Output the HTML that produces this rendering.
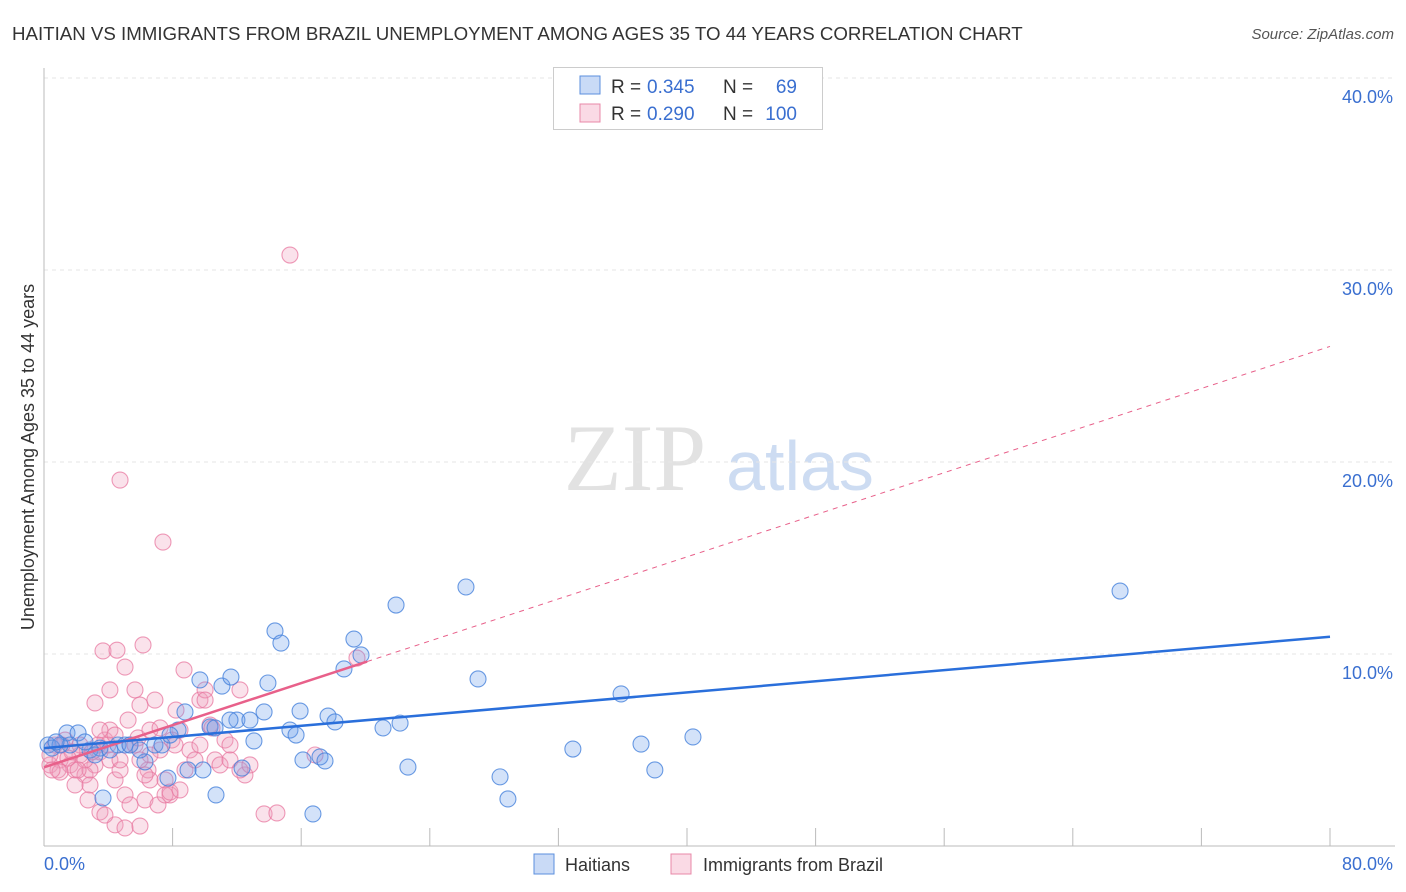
<!DOCTYPE html>
<html><head><meta charset="utf-8"><style>
body{margin:0;background:#fff;font-family:"Liberation Sans",sans-serif}
</style></head><body>
<svg width="1406" height="892" style="position:absolute;left:0;top:0">
<text x="12" y="40" font-size="18.7" fill="#333">HAITIAN VS IMMIGRANTS FROM BRAZIL UNEMPLOYMENT AMONG AGES 35 TO 44 YEARS CORRELATION CHART</text>
<text x="1394" y="39" font-size="15" fill="#555" font-style="italic" text-anchor="end">Source: ZipAtlas.com</text>
<text x="635" y="490" font-size="95" fill="#e2e2e2" font-family="Liberation Serif" text-anchor="middle">ZIP</text>
<text x="800" y="490" font-size="70" fill="#cddcf2" text-anchor="middle">atlas</text>
<g id="grid"></g><g id="axes"></g><g id="pts"></g><g id="lines"></g>
<text transform="translate(34,457) rotate(-90)" font-size="18" fill="#333" text-anchor="middle">Unemployment Among Ages 35 to 44 years</text>
<text x="44" y="870" font-size="18" fill="#3a6fd0">0.0%</text>
<text x="1393" y="870" font-size="18" fill="#3a6fd0" text-anchor="end">80.0%</text>
<g>
<rect x="553.5" y="67.5" width="269" height="62" fill="#fff" stroke="#ccc"/>
<rect x="580" y="76" width="20" height="18" fill="rgba(100,150,230,0.35)" stroke="#5b8fde"/>
<rect x="580" y="104" width="20" height="18" fill="rgba(240,150,180,0.35)" stroke="#e888a8"/>
<text x="611" y="93" font-size="19" fill="#333">R =</text>
<text x="647" y="93" font-size="19" fill="#3a6fd0">0.345</text>
<text x="723" y="93" font-size="19" fill="#333">N =</text>
<text x="797" y="93" font-size="19" fill="#3a6fd0" text-anchor="end">69</text>
<text x="611" y="120" font-size="19" fill="#333">R =</text>
<text x="647" y="120" font-size="19" fill="#3a6fd0">0.290</text>
<text x="723" y="120" font-size="19" fill="#333">N =</text>
<text x="797" y="120" font-size="19" fill="#3a6fd0" text-anchor="end">100</text>
</g>
<g><rect x="534" y="854" width="20" height="20" fill="rgba(100,150,230,0.35)" stroke="#5b8fde"/><text x="565" y="871" font-size="18" fill="#333">Haitians</text></g>
<g><rect x="671" y="854" width="20" height="20" fill="rgba(240,150,180,0.35)" stroke="#e888a8"/><text x="703" y="871" font-size="18" fill="#333">Immigrants from Brazil</text></g>
</svg>
<script>
const yTicks=[10,20,30,40];
const xTicks=[0,8,16,24,32,40,48,56,64,72,80];
const blueX=[0.25,0.5,1.43,2.12,1.62,2.86,3.48,4.6,5.04,3.67,6.28,6.9,7.34,7.71,8.34,8.77,8.96,9.7,9.89,10.33,10.7,11.07,11.63,12.0,12.32,12.81,13.06,13.69,13.93,14.37,14.74,15.3,15.68,15.93,16.11,16.73,17.17,17.48,17.67,18.1,18.66,19.28,19.72,21.09,21.9,22.15,22.64,26.25,27.0,28.37,28.86,32.9,35.9,37.14,38.0,40.37,66.94,1.0,4.1,5.35,2.55,0.75,3.17,5.97,11.57,7.84,10.64];
const blueY=[5.26,5.1,5.89,5.89,5.26,5.0,5.1,5.26,5.26,2.5,4.38,5.26,5.26,3.54,6.04,6.98,3.96,8.65,3.96,6.2,2.66,8.33,8.8,6.56,4.06,6.56,5.47,6.98,8.49,11.2,10.57,6.04,5.78,7.03,4.48,1.67,4.64,4.43,6.77,6.46,9.22,10.78,9.95,6.15,12.55,6.4,4.11,13.49,8.7,3.6,2.45,5.05,7.92,5.31,3.96,5.68,13.28,5.26,5.0,5.26,5.42,5.42,4.74,5.0,6.56,5.78,6.15];
const pinkX=[0.68,0.37,1.0,1.62,1.93,1.31,2.24,2.55,2.86,3.17,3.48,3.79,4.1,4.42,4.73,5.04,5.23,5.35,5.66,5.85,5.97,6.16,6.47,6.59,6.9,7.22,7.53,7.84,7.96,8.21,8.46,8.71,9.08,9.7,10.02,10.33,10.64,10.95,11.26,11.57,12.19,12.5,13.69,14.49,15.3,4.73,7.4,3.67,4.54,5.04,4.1,3.17,4.1,2.24,6.28,5.35,4.42,5.04,5.97,3.48,3.79,2.74,1.93,1.74,1.12,0.37,0.87,1.49,2.86,3.36,3.98,4.73,3.48,4.42,6.59,7.09,7.53,7.84,8.46,5.66,5.97,6.28,1.0,0.5,2.55,2.12,2.99,16.86,19.47,10.02,10.45,11.57,6.59,7.22,8.15,9.7,8.77,9.39,12.19,12.81];
const pinkY=[5.26,4.22,4.48,4.22,3.96,5.52,4.74,3.7,3.18,4.22,4.9,5.52,4.48,3.44,3.96,2.66,6.56,5.26,8.13,5.63,7.34,10.47,3.96,3.44,7.6,5.0,3.44,2.66,5.52,7.08,6.04,9.17,5.0,7.6,8.13,6.3,4.48,4.22,5.52,4.48,8.13,3.7,1.67,1.72,30.78,19.06,15.83,10.16,10.2,9.32,8.13,7.45,6.04,5.26,2.4,2.14,1.1,0.94,1.04,1.77,1.61,2.4,3.18,4.9,5.26,4.74,3.96,4.58,3.96,5.26,5.26,4.48,6.04,5.78,4.74,2.14,2.66,2.81,2.92,5.26,4.48,3.7,3.85,3.96,4.48,3.96,4.9,4.74,9.79,7.6,6.15,5.26,6.04,6.15,5.26,5.26,3.96,4.48,3.96,4.22];
const blueTrend=[5.1,10.9];
const pinkTrend=[4.1,0.274,20.1];
const X=v=>44+v*16.075, Y=v=>846-v*19.2;
const NS='http://www.w3.org/2000/svg';
function mk(t,a,p){const e=document.createElementNS(NS,t);for(const k in a)e.setAttribute(k,a[k]);document.getElementById(p).appendChild(e);return e;}
yTicks.forEach(t=>{
 const l=mk('line',{x1:44,x2:1395,y1:Y(t),y2:Y(t),stroke:'#e6e6e6','stroke-dasharray':'4,4'},'grid');
 
 
 const tx=mk('text',{x:1393,y:Y(t)+25,'font-size':18,fill:'#3a6fd0','text-anchor':'end'},'grid');
 tx.textContent=t.toFixed(1)+'%';
 
 
});
const ya=mk('line',{x1:44,x2:44,y1:68,y2:846,stroke:'#bbb'},'axes');


const xa=mk('line',{x1:44,x2:1395,y1:846,y2:846,stroke:'#bbb'},'axes');


xTicks.forEach(t=>{
 const l=mk('line',{x1:X(t),x2:X(t),y1:828,y2:846,stroke:'#bbb'},'axes');
 
 
});
pinkX.forEach((x,i)=>{
 const c=mk('circle',{cx:X(x),cy:Y(pinkY[i]),r:8,fill:'rgba(240,160,190,0.3)',stroke:'rgba(232,120,160,0.75)','stroke-width':1.1},'pts');
 
 
});
blueX.forEach((x,i)=>{
 const c=mk('circle',{cx:X(x),cy:Y(blueY[i]),r:8,fill:'rgba(110,160,235,0.3)',stroke:'rgba(70,130,220,0.8)','stroke-width':1.1},'pts');
 
 
});
const pf=v=>pinkTrend[0]+pinkTrend[1]*v;
const pd=mk('line',{x1:X(pinkTrend[2]),y1:Y(pf(pinkTrend[2])),x2:X(80),y2:Y(pf(80)),stroke:'#e8608a','stroke-dasharray':'5,5','stroke-width':1},'lines');


const ps=mk('line',{x1:X(0),y1:Y(pf(0)),x2:X(pinkTrend[2]),y2:Y(pf(pinkTrend[2])),stroke:'#e8608a','stroke-width':2.5},'lines');


const bl=mk('line',{x1:X(0),y1:Y(blueTrend[0]),x2:X(80),y2:Y(blueTrend[1]),stroke:'#2a6fdb','stroke-width':2.5},'lines');


</script>
</body></html>
